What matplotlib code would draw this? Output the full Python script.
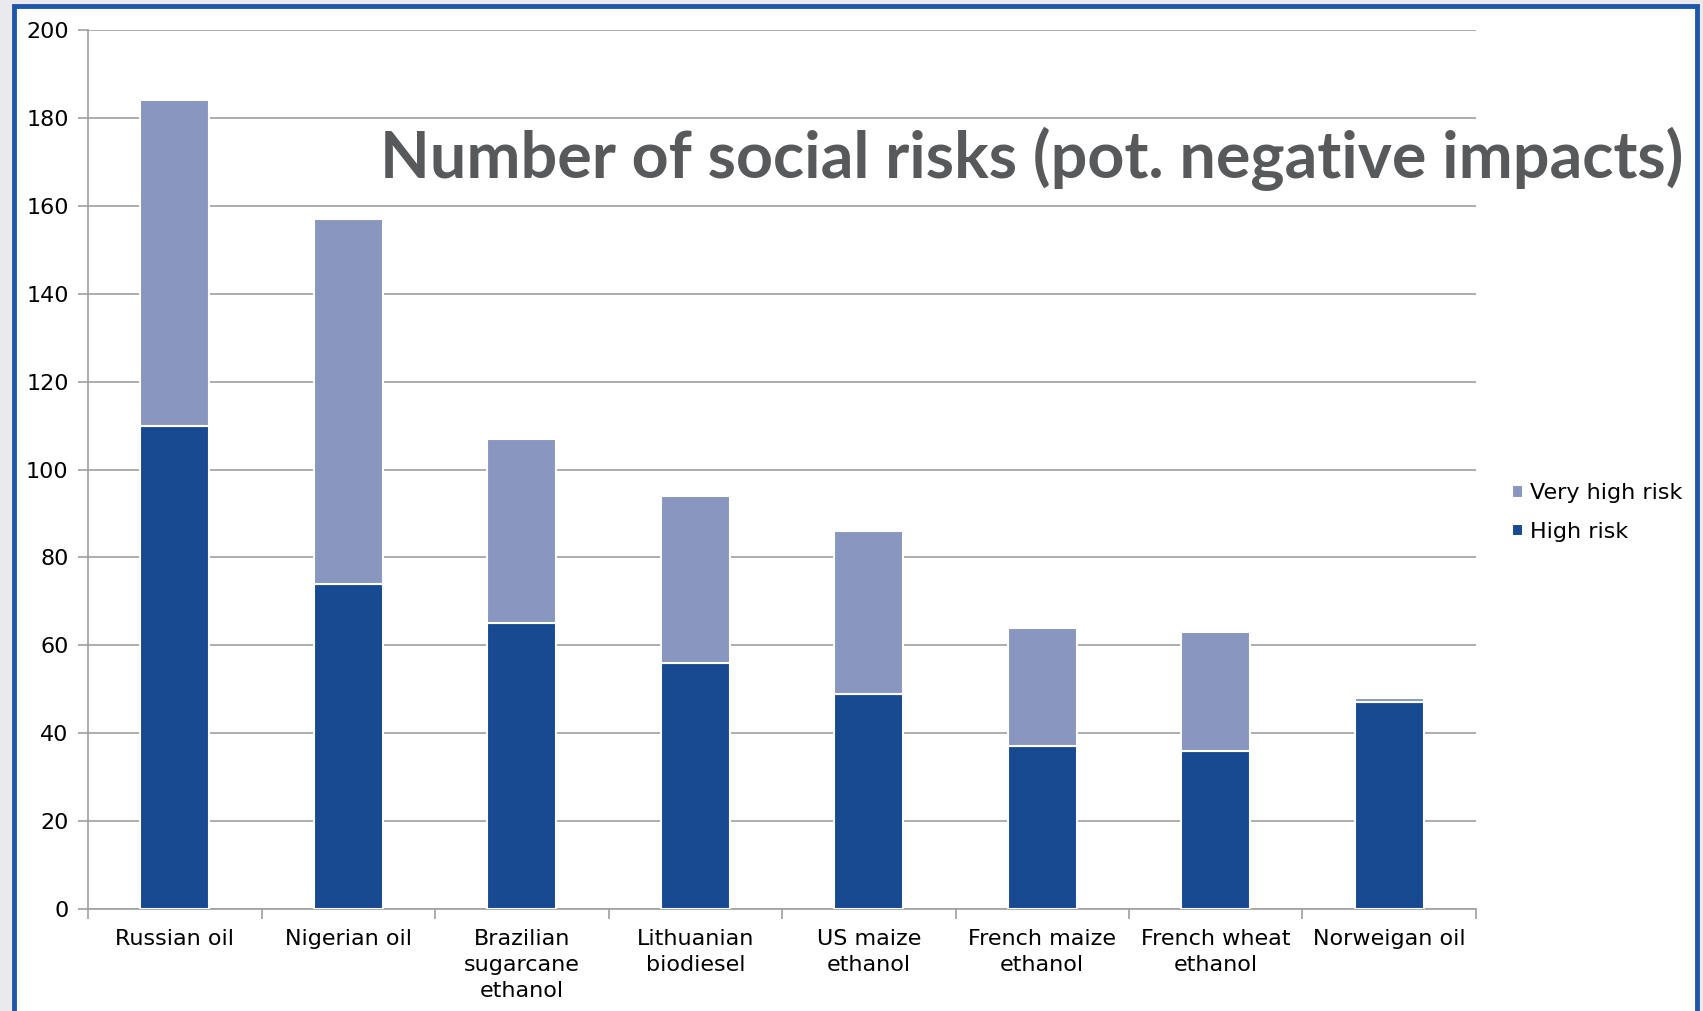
import numpy as np
import matplotlib.pyplot as plt
from matplotlib.patches import Rectangle
from matplotlib.ticker import FixedLocator

categories = ["Russian oil", "Nigerian oil", "Brazilian\nsugarcane\nethanol",
              "Lithuanian\nbiodiesel", "US maize\nethanol", "French maize\nethanol",
              "French wheat\nethanol", "Norweigan oil"]
high_risk = [110, 74, 65, 56, 49, 37, 36, 47]
very_high_risk = [74, 83, 42, 38, 37, 27, 27, 1]
yticks = [0, 20, 40, 60, 80, 100, 120, 140, 160, 180, 200]

fig = plt.figure(figsize=(17.03, 10.11), dpi=100)
fig.patch.set_facecolor("#e9e9ee")

# white frame with blue border (runs off the bottom edge)
frame = Rectangle((0.0082, -0.02), 0.9883, 1.0145, transform=fig.transFigure,
                  facecolor="white", edgecolor="#1f57a8", linewidth=3.5, zorder=-10)
fig.patches.append(frame)

ax = fig.add_axes([0.0517, 0.1009, 0.815, 0.8694])
ax.set_facecolor("none")
ax.set_zorder(2)

x = np.arange(len(categories))
dark = "#174a91"
light = "#8896c0"
b1 = ax.bar(x, high_risk, width=0.4, color=dark, edgecolor="white", linewidth=1.5,
            zorder=3, label="High risk")
b2 = ax.bar(x, very_high_risk, width=0.4, bottom=high_risk, color=light,
            edgecolor="white", linewidth=1.5, zorder=3, label="Very high risk")

ax.set_xlim(-0.5, len(categories) - 0.5)
ax.set_ylim(0, 200)
ax.set_yticks(yticks)
ax.grid(axis="y", color="#a0a0a0", linewidth=1.2, zorder=0)

ax.set_xticks(x)
ax.set_xticklabels(categories, fontsize=16, family="DejaVu Sans", linespacing=1.36)
ax.xaxis.set_minor_locator(FixedLocator(np.arange(-0.5, len(categories), 1.0)))
ax.tick_params(axis="x", which="major", length=0, pad=14.5)
ax.tick_params(axis="x", which="minor", length=7, color="#a0a0a0", width=1.2)
ax.tick_params(axis="y", length=7, color="#a0a0a0", width=1.2, labelsize=16, pad=7)

for s in ["top", "right"]:
    ax.spines[s].set_visible(False)
for s in ["left", "bottom"]:
    ax.spines[s].set_color("#a0a0a0")
    ax.spines[s].set_linewidth(1.2)

leg = fig.legend([b2, b1], ["Very high risk", "High risk"], loc="center left",
                 bbox_to_anchor=(0.876, 0.493), frameon=False, fontsize=16,
                 handlelength=0.5, handleheight=0.5, handletextpad=0.3,
                 labelspacing=0.85)

fig.text(0.606, 0.843, "Number of social risks (pot. negative impacts)",
         ha="center", va="center", fontsize=46.5, fontweight="bold",
         family="Lato", color="#58595b", zorder=5)

fig.savefig("out.png", dpi=100, facecolor=fig.get_facecolor())
